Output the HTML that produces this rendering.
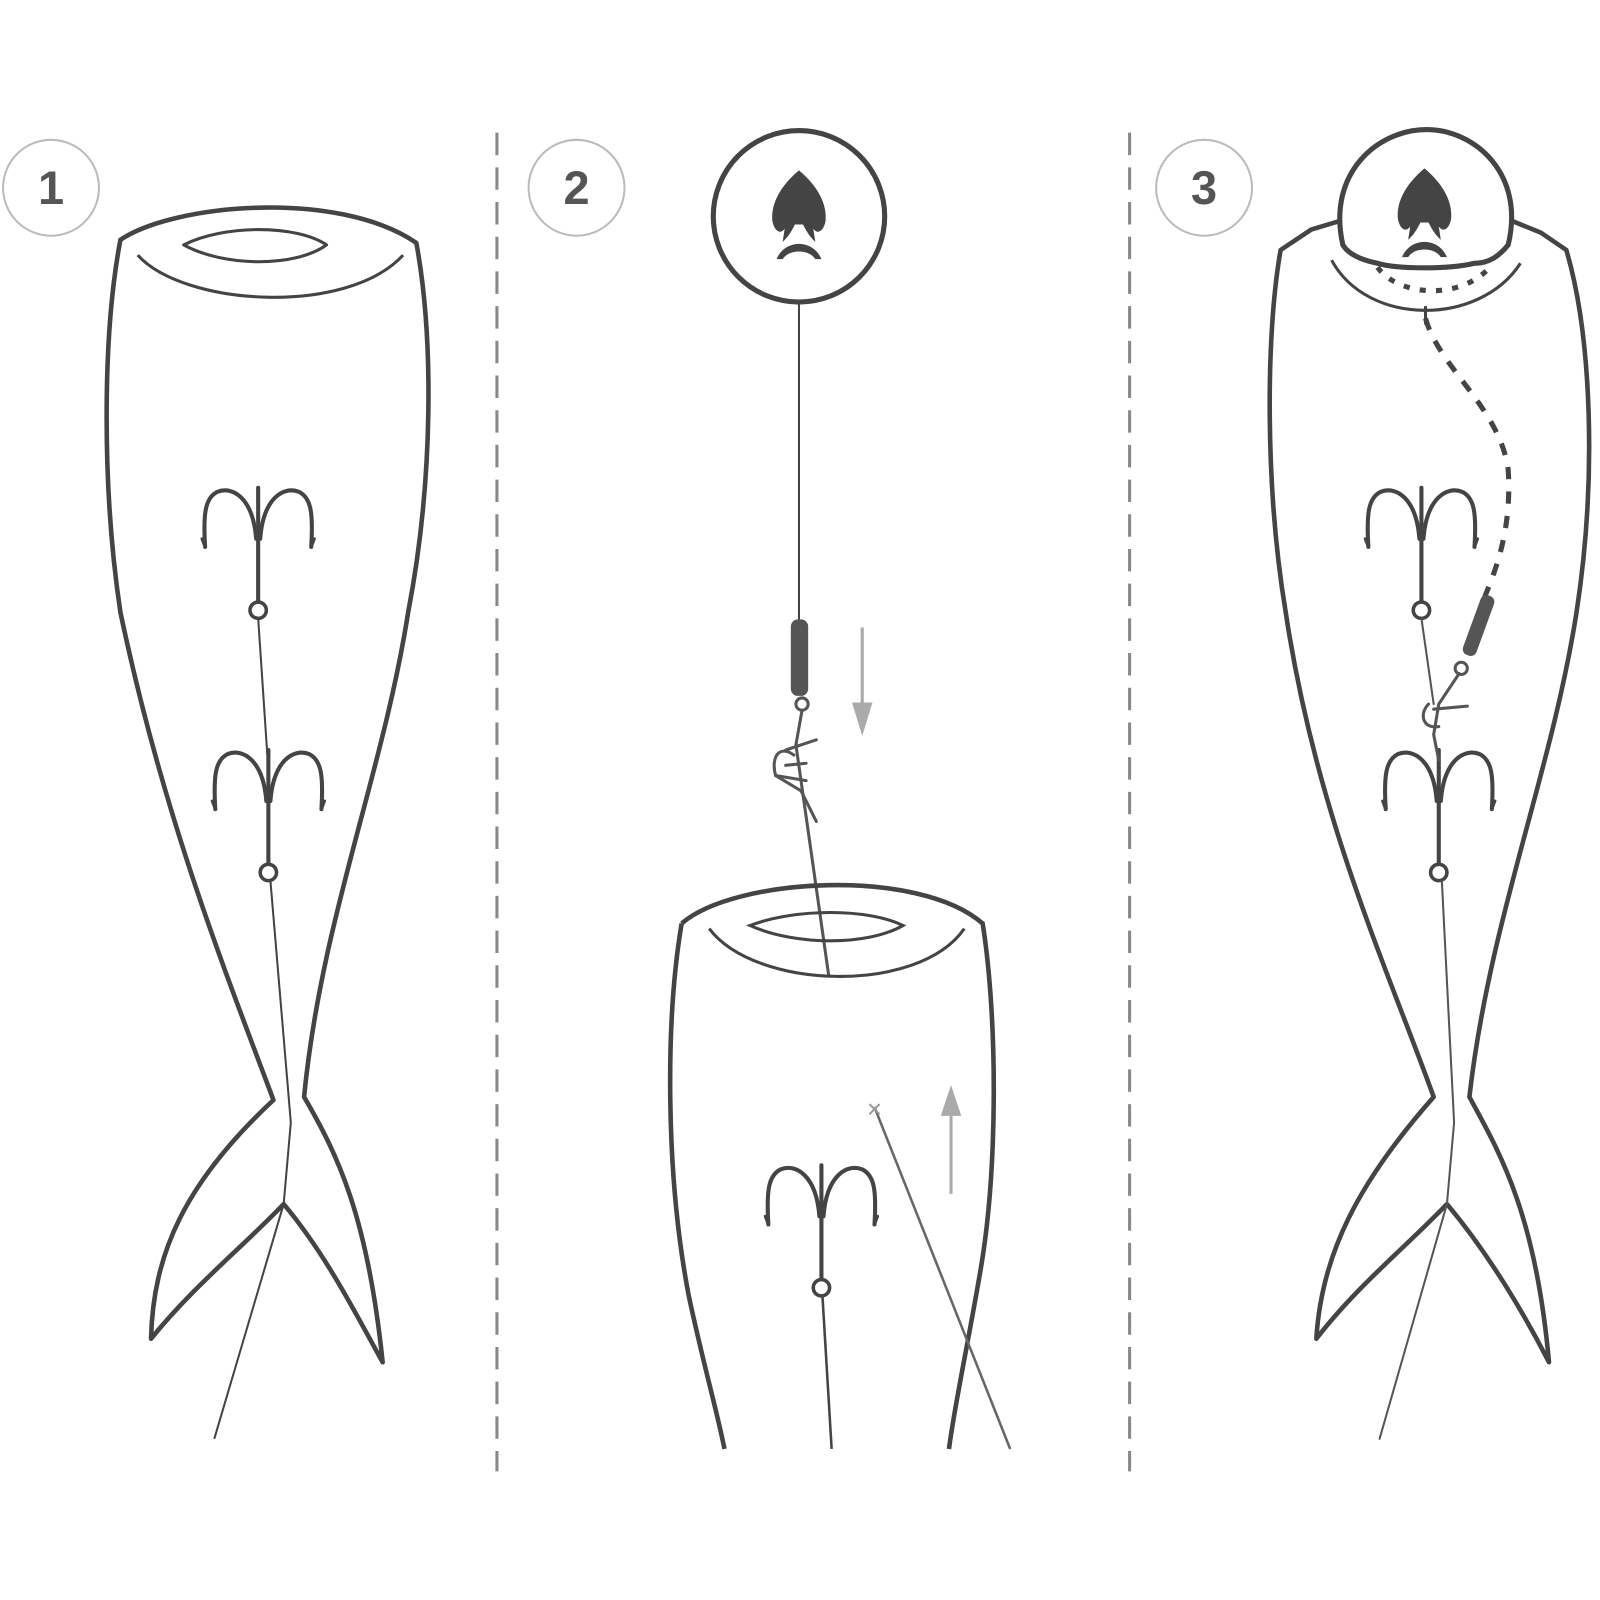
<!DOCTYPE html>
<html><head><style>html,body{margin:0;padding:0;background:#fff}svg{display:block}</style></head>
<body>
<svg width="1600" height="1600" viewBox="0 0 1568 1568" xmlns="http://www.w3.org/2000/svg">
<defs>
<g id="hook" fill="none" stroke="#444" stroke-width="4" stroke-linecap="round">
<path d="M0,-9 L0,-120"/>
<path d="M-2,-70 C-5,-110 -25,-122 -40,-116 C-52,-110 -54,-95 -52,-62"/>
<path d="M2,-70 C5,-110 25,-122 40,-116 C52,-110 54,-95 52,-62"/>
<path d="M-52,-62 L-55,-70 M52,-62 L55,-70" stroke-width="3"/>
<circle cx="0" cy="0" r="8" stroke-width="3.5"/>
</g>
<g id="face">
<path d="M0,-45 C18,-30 28,-12 26,5 C24,15 18,18 14,12 L16,25 C10,20 6,12 4,8 L-4,8 C-6,12 -10,20 -16,25 L-14,12 C-18,18 -24,15 -26,5 C-28,-12 -18,-30 0,-45 Z" fill="#444"/>
<path d="M-22,42 C-14,22 14,22 22,42 L16,42 C10,32 -10,32 -16,42 Z" fill="#444"/>
</g>
</defs>
<g fill="none" stroke="#bbb" stroke-width="2">
<circle cx="50" cy="184" r="47"/>
<circle cx="565" cy="184" r="47"/>
<circle cx="1180" cy="184" r="47"/>
</g>
<g font-family="Liberation Sans, sans-serif" font-weight="bold" font-size="46" fill="#555" text-anchor="middle">
<text x="50" y="200">1</text><text x="565" y="200">2</text><text x="1180" y="200">3</text>
</g>
<g stroke="#888" stroke-width="3" stroke-dasharray="22,12">
<line x1="487" y1="130" x2="487" y2="1442"/>
<line x1="1107" y1="130" x2="1107" y2="1442"/>
</g>

<!-- Fish 1 -->
<g fill="none" stroke="#444" stroke-width="4.5" stroke-linejoin="round">
<path d="M118,235 C170,200 330,185 408,238 C425,330 425,470 400,600 C375,760 315,900 298,1075 C330,1130 360,1190 375,1335 C350,1290 320,1230 278,1180 C240,1220 190,1260 148,1312 C150,1230 180,1160 268,1078 C220,950 160,800 118,600 C100,480 100,330 118,235 Z"/>
<path d="M135,250 C180,300 340,310 395,250" stroke-width="3"/>
<path d="M180,240 C220,220 290,220 320,240 C290,262 220,262 180,240 Z" stroke-width="3"/>
</g>
<use href="#hook" x="253" y="598"/>
<use href="#hook" x="263" y="855"/>
<path d="M253,606 L262,740 M265,863 L285,1100 L278,1180 L210,1410" fill="none" stroke="#444" stroke-width="2"/>

<!-- Fish 2 -->
<circle cx="783" cy="212" r="84" fill="none" stroke="#444" stroke-width="5"/>
<use href="#face" x="783" y="212"/>
<line x1="783" y1="296" x2="783" y2="608" stroke="#444" stroke-width="2"/>
<rect x="775" y="607" width="17" height="75" rx="7" fill="#555"/>
<circle cx="786" cy="690" r="6" fill="none" stroke="#555" stroke-width="3"/>
<g fill="none" stroke="#555" stroke-width="3" stroke-linecap="round">
<path d="M786,696 L780,730 L812,955"/>
<path d="M778,740 C765,730 755,740 760,760 L785,775 L800,805"/>
<path d="M770,735 L800,725 M770,750 L790,748 M760,760 L790,765"/>
</g>
<g stroke="#aaa" stroke-width="3" fill="#aaa">
<line x1="845" y1="615" x2="845" y2="700"/><path d="M837,690 L853,690 L845,716 Z"/>
<line x1="932" y1="1170" x2="932" y2="1085"/><path d="M924,1092 L940,1092 L932,1068 Z"/>
</g>
<g fill="none" stroke="#444" stroke-width="4.5">
<path d="M668,905 C720,860 900,850 963,905 C978,1000 978,1150 960,1250 C948,1320 935,1380 930,1420"/>
<path d="M668,905 C652,1000 652,1150 675,1270 C690,1340 702,1380 710,1420"/>
<path d="M695,910 C740,970 900,975 945,910" stroke-width="3"/>
<path d="M735,907 C780,890 850,890 885,907 C850,927 780,927 735,907 Z" stroke-width="3"/>
</g>
<use href="#hook" x="805" y="1262"/>
<path d="M806,1270 L815,1420" stroke="#444" stroke-width="2.5"/>
<path d="M857,1085 L990,1420" stroke="#666" stroke-width="2.5"/>
<path d="M852,1082 L862,1092 M852,1092 L862,1082" stroke="#999" stroke-width="2"/>

<!-- Fish 3 -->
<g fill="none" stroke="#444" stroke-width="4.5" stroke-linejoin="round">
<path d="M1318,215 L1285,225 L1255,245 C1240,330 1240,480 1260,600 C1290,800 1360,950 1405,1075 C1330,1160 1295,1230 1290,1312 C1330,1260 1380,1220 1418,1180 C1460,1230 1495,1290 1518,1335 C1505,1190 1470,1130 1440,1075 C1460,900 1520,760 1545,600 C1565,470 1560,330 1535,245 L1510,228 L1478,215"/>
<path d="M1305,255 C1340,320 1450,320 1490,258" stroke-width="3"/>
<path d="M1316,240 C1300,170 1350,127 1398,127 C1445,127 1495,170 1478,240 C1470,250 1460,258 1445,258 C1420,264 1370,264 1350,258 C1335,255 1322,250 1316,240 Z" stroke-width="5" fill="#fff"/>
<path d="M1350,262 C1370,290 1430,295 1460,262" stroke-width="5" stroke-dasharray="6,10"/>
<path d="M1397,312 C1410,360 1470,400 1478,460 C1482,520 1465,560 1455,585" stroke-width="5" stroke-dasharray="12,12"/>
</g>
<use href="#face" x="1396" y="210"/>
<path d="M1397,300 L1397,318" stroke="#444" stroke-width="3"/>
<use href="#hook" x="1393" y="598"/>
<use href="#hook" x="1410" y="855"/>
<rect x="1442" y="582" width="14" height="62" rx="6" fill="#555" transform="rotate(20 1449 613)"/>
<g fill="none" stroke="#555" stroke-width="3" stroke-linecap="round">
<circle cx="1432" cy="655" r="6"/>
<path d="M1430,660 L1410,690 L1405,720 L1410,745"/>
<path d="M1400,690 C1390,700 1395,715 1410,712 M1405,695 L1438,692"/>
<path d="M1393,606 L1405,690 M1413,863 L1425,1100 L1418,1180 L1352,1410" stroke-width="2"/>
</g>
</svg>
</body></html>
